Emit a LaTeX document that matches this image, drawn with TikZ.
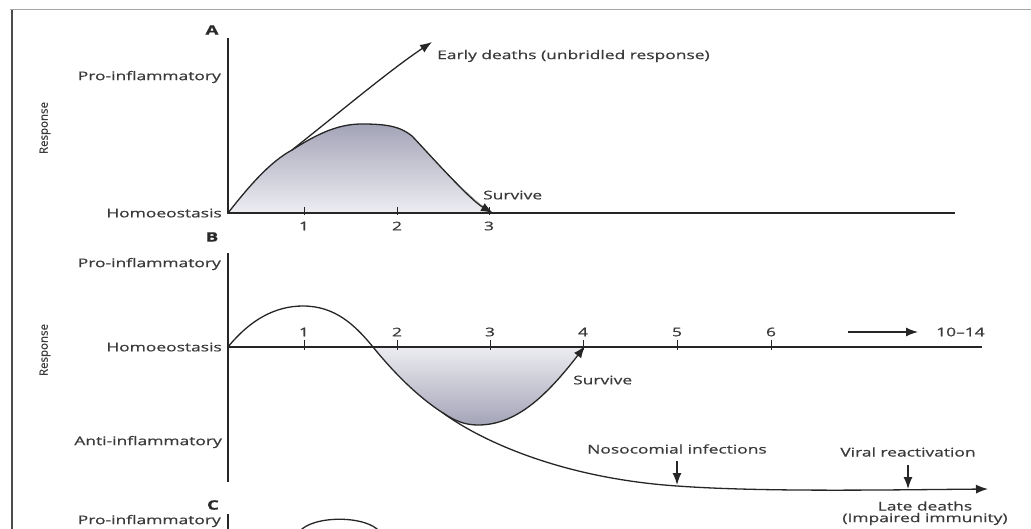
\documentclass[tikz,border=0pt]{standalone}
\usepackage{fontspec}
\setmainfont[FakeStretch=1.45,FakeBold=0.7]{Open Sans}
\newfontfamily\respfont[FakeBold=0.6]{Open Sans}
\usetikzlibrary{arrows.meta}
\definecolor{txtgray}{HTML}{3A3A3A}
\definecolor{linegray}{HTML}{262626}
\definecolor{shadedark}{HTML}{A4A4B8}
\definecolor{shadelight}{HTML}{EDEDF2}
\begin{document}
\begin{tikzpicture}[x=1pt,y=-1pt,
  lbl/.style={font=\fontsize{12}{14}\selectfont, text=txtgray, inner sep=0pt},
  panel/.style={font=\bfseries\fontsize{13}{15}\selectfont, text=txtgray!70!black, inner sep=0pt},
  axis/.style={line width=1.5pt, draw=linegray},
  curve/.style={line width=1.3pt, draw=linegray},
  arr/.style={-{Latex[length=12pt,width=9pt]}},
  tickmark/.style={line width=1pt, draw=linegray},
  resp/.style={font=\respfont\fontsize{11.5}{13}\selectfont, rotate=90, text=txtgray, inner sep=0pt}]
\useasboundingbox (0,0) rectangle (1031,529);
% frame
\coordinate (fTL) at (10,10); \coordinate (fTR) at (1031,10);
\coordinate (fL0) at (12,10); \coordinate (fL1) at (12,529);
\draw[gray!70, line width=1pt] (fTL) -- (fTR);
\draw[gray!60!black, line width=1.2pt] (fL0) -- (fL1);

% ================= Panel A =================
\node[panel] (labA) at (212,30) {A};
\coordinate (A0) at (228,213);
\coordinate (Atop) at (228,38);
\coordinate (Aend) at (955,213);
\coordinate (Abr) at (292,150);
\coordinate (Aearly) at (432,42);
\coordinate (Asurv) at (493,213);
\fill[top color=shadedark, bottom color=shadelight]
  (A0) .. controls (250,185) and (270,162) .. (Abr)
  .. controls (320,132) and (340,124) .. (362,124)
  .. controls (385,124) and (400,126) .. (412,136)
  .. controls (430,155) and (470,200) .. (Asurv) -- cycle;
\draw[axis] (Atop) -- (A0) -- (Aend);
\draw[curve, arr] (A0) .. controls (250,185) and (270,162) .. (Abr)
  .. controls (340,112) and (390,70) .. (Aearly);
\draw[curve, arr] (Abr) .. controls (320,132) and (340,124) .. (362,124)
  .. controls (385,124) and (400,126) .. (412,136)
  .. controls (430,155) and (470,200) .. (Asurv);
\foreach \x/\n in {304/1,397/2,489/3}{
  \draw[tickmark] (\x,207) -- (\x,215);
  \node[lbl] (tA\n) at (\x,226) {\n};
}
\node[lbl, anchor=east] (proA) at (221,77) {Pro-inflammatory};
\node[lbl, anchor=east] (homA) at (222,213) {Homoeostasis};
\node[resp] (respA) at (45,128) {Response};
\node[lbl, anchor=west] (earlyT) at (437,56) {Early deaths (unbridled response)};
\node[lbl, anchor=west] (survA) at (483,195) {Survive};

% ================= Panel B =================
\node[panel] (labB) at (212,237) {B};
\coordinate (B0) at (228,347);
\coordinate (Btop) at (228,253);
\coordinate (Bbot) at (228,482);
\coordinate (Bend) at (982,347);
\coordinate (Bx) at (373,347);
\coordinate (Bbr) at (443,413);
\coordinate (Bsurv) at (585,346);
\coordinate (Blate) at (988,489);
\fill[top color=shadelight, bottom color=shadedark]
  (Bx) .. controls (390,368) and (415,395) .. (Bbr)
  .. controls (455,421) and (465,425) .. (478,425)
  .. controls (515,425) and (545,398) .. (Bsurv) -- cycle;
\draw[axis] (Btop) -- (Bbot);
\draw[axis] (B0) -- (Bend);
\draw[curve, arr] (B0) .. controls (250,320) and (275,306) .. (303,306)
  .. controls (335,306) and (355,325) .. (Bx)
  .. controls (390,368) and (415,395) .. (Bbr)
  .. controls (480,440) and (560,478) .. (677,486)
  .. controls (760,492) and (880,490) .. (Blate);
\draw[curve, arr] (Bbr) .. controls (455,421) and (465,425) .. (478,425)
  .. controls (515,425) and (545,398) .. (Bsurv);
\foreach \x/\n in {304/1,397/2,490/3,583/4,677/5,771/6}{
  \draw[tickmark] (\x,340) -- (\x,350);
  \node[lbl] (tB\n) at (\x,332) {\n};
}
\node[lbl, anchor=west] (tB10) at (936,332) {10–14};
\coordinate (Bar0) at (848,332);
\coordinate (Bar1) at (918,332);
\draw[curve, arr] (Bar0) -- (Bar1);
\node[lbl, anchor=east] (proB) at (221,264) {Pro-inflammatory};
\node[lbl, anchor=east] (homB) at (222,347) {Homoeostasis};
\node[lbl, anchor=east] (antiB) at (222,442) {Anti-inflammatory};
\node[resp] (respB) at (45,350) {Response};
\node[lbl, anchor=west] (survB) at (573,380) {Survive};
\node[lbl] (noso) at (677,449) {Nosocomial infections};
\coordinate (nosoTop) at (677,461);
\coordinate (nosoTip) at (677,485);
\draw[curve, arr] (nosoTop) -- (nosoTip);
\node[lbl] (viral) at (908,452) {Viral reactivation};
\coordinate (viralTop) at (908,465);
\coordinate (viralTip) at (908,489);
\draw[curve, arr] (viralTop) -- (viralTip);
\node[lbl] (lateT) at (925,506) {Late deaths};
\node[lbl] (lateT2) at (925,519) {(Impaired immunity)};

% ================= Panel C =================
\node[panel] (labC) at (213,505) {C};
\coordinate (C0) at (228,514);
\coordinate (C1) at (228,535);
\draw[axis] (C0) -- (C1);
\node[lbl, anchor=east] (proC) at (221,521) {Pro-inflammatory};
\coordinate (Ca) at (299,532);
\coordinate (Cb) at (380,532);
\draw[curve] (Ca) .. controls (312,515) and (367,515) .. (Cb);
\end{tikzpicture}
\end{document}
